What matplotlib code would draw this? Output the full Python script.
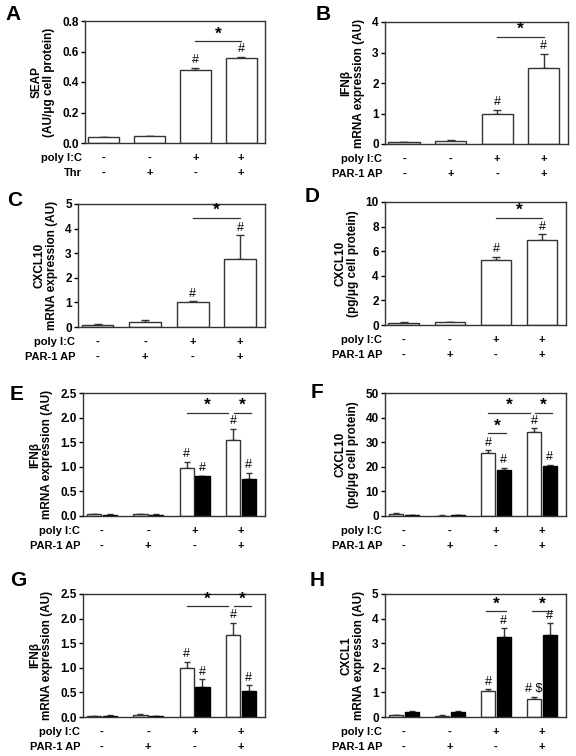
import matplotlib
matplotlib.use("Agg")
import matplotlib.pyplot as plt
import numpy as np
from matplotlib.transforms import blended_transform_factory

plt.rcParams['font.family'] = ['Liberation Sans', 'DejaVu Sans']
plt.rcParams['font.weight'] = 'bold'

groups = [0, 1, 2, 3]
poly_ic = ['-', '-', '+', '+']
treat2 = ['-', '+', '-', '+']

# Panel A
a_vals = [0.04, 0.045, 0.48, 0.555]
a_err = [0.002, 0.002, 0.015, 0.01]
# Panel B
b_vals = [0.05, 0.1, 1.0, 2.48]
b_err = [0.02, 0.04, 0.12, 0.48]
# Panel C
c_vals = [0.1, 0.22, 1.0, 2.75]
c_err = [0.02, 0.08, 0.04, 0.97]
# Panel D
d_vals = [0.2, 0.25, 5.25, 6.95]
d_err = [0.05, 0.03, 0.3, 0.45]
# Panel E
e_white = [0.04, 0.04, 0.98, 1.54]
e_white_err = [0.01, 0.01, 0.12, 0.23]
e_black = [0.03, 0.03, 0.81, 0.76]
e_black_err = [0.005, 0.005, 0.01, 0.12]
# Panel F
f_white = [0.8, 0.2, 25.8, 34.3]
f_white_err = [0.3, 0.1, 1.0, 1.3]
f_black = [0.4, 0.5, 18.8, 20.3]
f_black_err = [0.1, 0.1, 0.8, 0.5]
# Panel G
g_white = [0.02, 0.05, 1.0, 1.67]
g_white_err = [0.005, 0.02, 0.12, 0.25]
g_black = [0.03, 0.02, 0.6, 0.52]
g_black_err = [0.005, 0.005, 0.17, 0.13]
# Panel H
h_white = [0.07, 0.06, 1.05, 0.74]
h_white_err = [0.02, 0.01, 0.08, 0.08]
h_black = [0.2, 0.22, 3.25, 3.33]
h_black_err = [0.03, 0.03, 0.35, 0.48]

W, H = 576, 756
fig = plt.figure(figsize=(W/100, H/100), dpi=100)

EC = '#333333'

def add_ax(l, t, r, b):
    return fig.add_axes([l/W, 1 - b/H, (r-l)/W, (b-t)/H])

def style(ax, ylim, yticks, fmt, ylabel, row2, row2name):
    ax.set_ylim(*ylim)
    ax.set_xlim(-0.41, 3.52)
    ax.set_yticks(yticks)
    ax.set_yticklabels([fmt.format(v) for v in yticks], fontsize=8.5, fontweight='bold')
    ax.set_xticks([])
    for s in ax.spines.values():
        s.set_linewidth(1.0)
        s.set_color(EC)
    ax.tick_params(axis='y', length=3, width=1, pad=1.5)
    ax.set_ylabel(ylabel, fontsize=8.5, fontweight='bold', labelpad=5, linespacing=1.05)
    tr = blended_transform_factory(ax.transData, ax.transAxes)
    for x, p, q in zip(groups, poly_ic, row2):
        ax.text(x, -0.12, p, transform=tr, ha='center', va='center', fontsize=8, fontweight='bold')
        ax.text(x, -0.245, q, transform=tr, ha='center', va='center', fontsize=8, fontweight='bold')
    ax.text(-0.47, -0.12, 'poly I:C', transform=tr, ha='right', va='center', fontsize=8, fontweight='bold')
    ax.text(-0.47, -0.245, row2name, transform=tr, ha='right', va='center', fontsize=8, fontweight='bold')

def single(ax, vals, err, hashes, ylim):
    ax.bar(groups, vals, width=0.67, color='white', edgecolor=EC, linewidth=1.0, zorder=2)
    ax.errorbar(groups, vals, yerr=[np.zeros(4), err], fmt='none', ecolor=EC,
                elinewidth=1.0, capsize=3, capthick=1.0, zorder=1)
    off = (ylim[1]-ylim[0]) * 0.012
    for i in hashes:
        ax.text(groups[i], vals[i] + err[i] + off, '#', ha='center', va='bottom', fontsize=9, fontweight='normal')

def double(ax, white, werr, black, berr, ylim, wlabels=None):
    xs = np.array(groups)
    xw = xs - 0.17
    xb = xs + 0.17
    ax.bar(xw, white, width=0.31, color='white', edgecolor=EC, linewidth=1.0, zorder=2)
    ax.bar(xb, black, width=0.31, color='black', edgecolor='black', linewidth=1.0, zorder=2)
    ax.errorbar(xw, white, yerr=[np.zeros(4), werr], fmt='none', ecolor=EC,
                elinewidth=1.0, capsize=2.5, capthick=1.0, zorder=1)
    ax.errorbar(xb, black, yerr=[np.zeros(4), berr], fmt='none', ecolor=EC,
                elinewidth=1.0, capsize=2.5, capthick=1.0, zorder=1)
    off = (ylim[1]-ylim[0]) * 0.012
    if wlabels is None:
        wlabels = {2: '#', 3: '#'}
    for i in [2, 3]:
        ax.text(xw[i], white[i] + werr[i] + off, wlabels[i], ha='center', va='bottom', fontsize=9, fontweight='normal')
        ax.text(xb[i], black[i] + berr[i] + off, '#', ha='center', va='bottom', fontsize=9, fontweight='normal')
    return xw, xb

def sig(ax, x0, x1, y, ylim):
    ax.plot([x0, x1], [y, y], color=EC, lw=0.9)
    ax.text((x0+x1)/2, y + (ylim[1]-ylim[0])*0.0, '*', ha='center', va='bottom', fontsize=12.5, fontweight='bold')

def letter(x, y, s):
    fig.text(x/W, 1-y/H, s, fontsize=15, fontweight='bold', va='center')

# ---- A
ax = add_ax(85, 21, 265, 143)
single(ax, a_vals, a_err, [2, 3], (0, 0.8))
sig(ax, 2, 3, 0.667, (0, 0.8))
style(ax, (0, 0.8), [0, 0.2, 0.4, 0.6, 0.8], '{:.1f}', 'SEAP\n(AU/\u03bcg cell protein)', treat2, 'Thr')
letter(5, 15, 'A')

# ---- B
ax = add_ax(385, 22, 568, 144)
single(ax, b_vals, b_err, [2, 3], (0, 4))
sig(ax, 2, 3, 3.51, (0, 4))
style(ax, (0, 4), [0, 1, 2, 3, 4], '{:.0f}', 'IFN\u03b2\nmRNA expression (AU)', treat2, 'PAR-1 AP')
letter(316, 15, 'B')

# ---- C
ax = add_ax(78, 204, 265, 327)
single(ax, c_vals, c_err, [2, 3], (0, 5))
sig(ax, 2, 3, 4.45, (0, 5))
style(ax, (0, 5), [0, 1, 2, 3, 4, 5], '{:.0f}', 'CXCL10\nmRNA expression (AU)', treat2, 'PAR-1 AP')
letter(7, 200, 'C')

# ---- D
ax = add_ax(385, 202, 566, 325)
single(ax, d_vals, d_err, [2, 3], (0, 10))
sig(ax, 2, 3, 8.7, (0, 10))
style(ax, (0, 10), [0, 2, 4, 6, 8, 10], '{:.0f}', 'CXCL10\n(pg/\u03bcg cell protein)', treat2, 'PAR-1 AP')
letter(305, 197, 'D')

# ---- E
ax = add_ax(83, 393, 265, 516)
xw, xb = double(ax, e_white, e_white_err, e_black, e_black_err, (0, 2.5))
sig(ax, xw[2], xw[3] - 0.1, 2.1, (0, 2.5))
sig(ax, xw[3] + 0.02, xb[3] + 0.05, 2.1, (0, 2.5))
style(ax, (0, 2.5), [0, 0.5, 1.0, 1.5, 2.0, 2.5], '{:.1f}', 'IFN\u03b2\nmRNA expression (AU)', treat2, 'PAR-1 AP')
letter(10, 395, 'E')

# ---- F
ax = add_ax(385, 393, 566, 516)
xw, xb = double(ax, f_white, f_white_err, f_black, f_black_err, (0, 50))
sig(ax, xw[2], xw[3] - 0.1, 41.8, (0, 50))
sig(ax, xw[3] + 0.02, xb[3] + 0.05, 41.8, (0, 50))
sig(ax, xw[2], xb[2] + 0.05, 33.6, (0, 50))
style(ax, (0, 50), [0, 10, 20, 30, 40, 50], '{:.0f}', 'CXCL10\n(pg/\u03bcg cell protein)', treat2, 'PAR-1 AP')
letter(311, 392, 'F')

# ---- G
ax = add_ax(83, 594, 265, 717)
xw, xb = double(ax, g_white, g_white_err, g_black, g_black_err, (0, 2.5))
sig(ax, xw[2], xw[3] - 0.1, 2.25, (0, 2.5))
sig(ax, xw[3] + 0.02, xb[3] + 0.05, 2.25, (0, 2.5))
style(ax, (0, 2.5), [0, 0.5, 1.0, 1.5, 2.0, 2.5], '{:.1f}', 'IFN\u03b2\nmRNA expression (AU)', treat2, 'PAR-1 AP')
letter(10, 580, 'G')

# ---- H
ax = add_ax(385, 594, 566, 717)
xw, xb = double(ax, h_white, h_white_err, h_black, h_black_err, (0, 5), wlabels={2: '#', 3: '# $'})
sig(ax, xw[2] - 0.05, xb[2] + 0.05, 4.29, (0, 5))
sig(ax, xw[3] - 0.05, xb[3] + 0.05, 4.29, (0, 5))
style(ax, (0, 5), [0, 1, 2, 3, 4, 5], '{:.0f}', 'CXCL1\nmRNA expression (AU)', treat2, 'PAR-1 AP')
letter(310, 580, 'H')

fig.savefig('out.png', dpi=100)
